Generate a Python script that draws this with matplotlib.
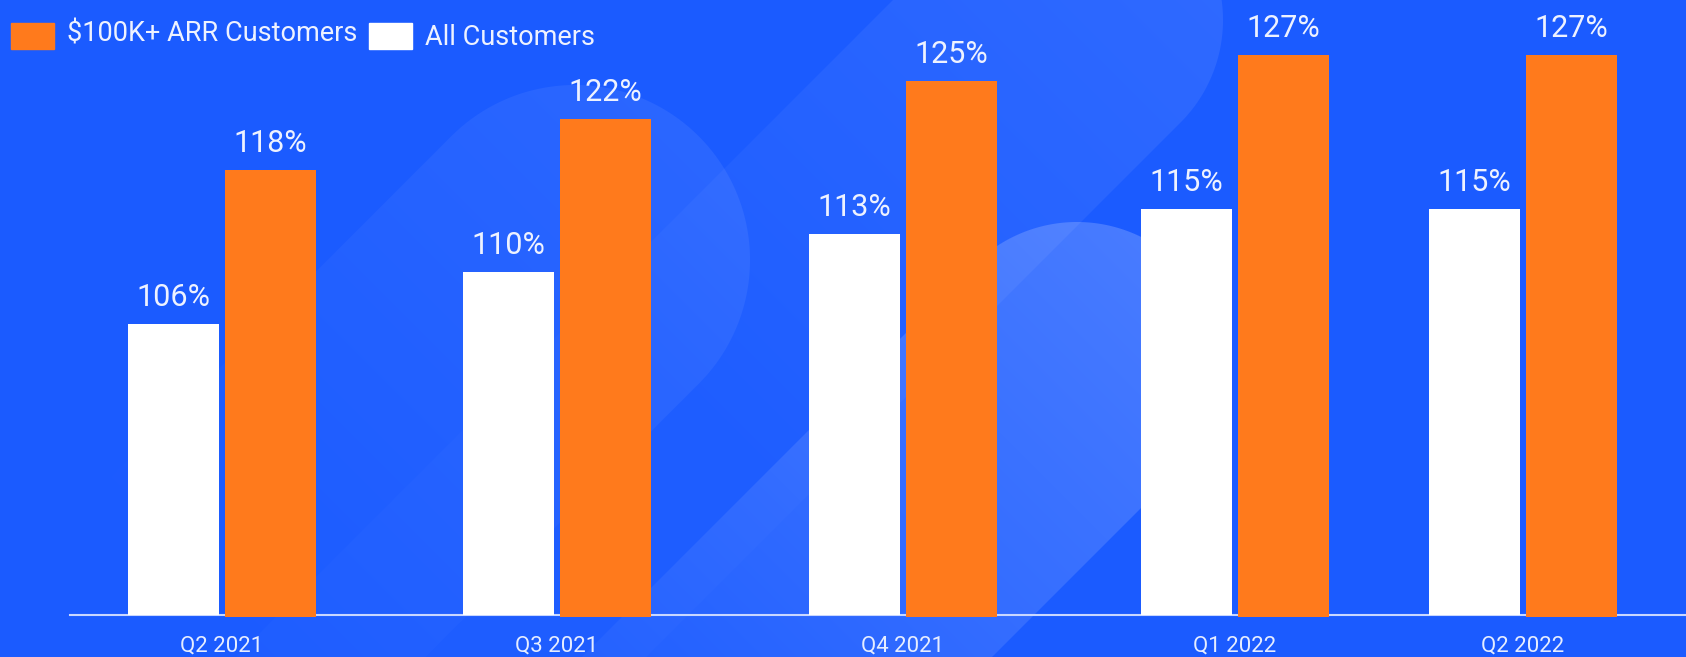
import numpy as np
import matplotlib.pyplot as plt
from matplotlib.patches import Rectangle
from matplotlib.colors import to_rgb

# data
quarters = ["Q2 2021", "Q3 2021", "Q4 2021", "Q1 2022", "Q2 2022"]
all_customers = [106, 110, 113, 115, 115]
arr_100k = [118, 122, 125, 127, 127]
series_names = ["$100K+ ARR Customers", "All Customers"]

# layout (pixels of the 1686x657 canvas)
W, H = 1686, 657
BG = "#1b5bff"
ORANGE = "#ff7a1c"
TXT = "#eef2ff"
group_x = [222, 557, 903, 1235, 1523]
bar_w = 91
offs = 48.5
base = 83.2
px_per_pct = 12.78

plt.rcParams['font.family'] = ['Roboto', 'DejaVu Sans']

fig = plt.figure(figsize=(W / 100, H / 100), dpi=100, facecolor=BG)

# soft decorative shapes behind the chart: rounded bands running down-left,
# fading out as they go (centre x, centre y, radius, alpha at top, alpha at end)
shapes = [(575, 260, 175, 0.07, 0.0),
          (1078, 20, 145, 0.09, 0.015),
          (1077, 367, 145, 0.20, 0.03)]
yy, xx = np.mgrid[0:H, 0:W] + 0.5
img = np.ones((H, W, 3)) * np.array(to_rgb(BG))
dx, dy = -np.sqrt(0.5), np.sqrt(0.5)
for cx, cy, r, a0, a1 in shapes:
    t = (xx - cx) * dx + (yy - cy) * dy
    tc = np.clip(t, 0, None)
    dist = np.hypot(xx - cx - tc * dx, yy - cy - tc * dy)
    cover = np.clip(r - dist + 0.5, 0, 1)
    alpha = cover * (a0 + (a1 - a0) * np.clip((t + r) / 700, 0, 1))
    img = img * (1 - alpha[..., None]) + alpha[..., None]

bg = fig.add_axes([0, 0, 1, 1])
bg.imshow(img, extent=(0, W, H, 0), aspect='auto', interpolation='nearest')
bg.axis('off')

ax = fig.add_axes([0, 42 / H, 1, 615 / H])
ax.patch.set_alpha(0)
ax.set_xlim(0, W)
ax.set_ylim(base, base + 615 / px_per_pct)

ext = 2 / px_per_pct
wb = ax.bar([x - offs for x in group_x], [v - base for v in all_customers],
            bottom=base, width=bar_w, color='white', zorder=3)
ob = ax.bar([x + offs for x in group_x], [v - base + ext for v in arr_100k],
            bottom=base - ext, width=bar_w, color=ORANGE, zorder=3, clip_on=False)

for bars, vals in [(wb, all_customers), (ob, arr_100k)]:
    for b, v in zip(bars, vals):
        ax.annotate(f"{v}%", (b.get_x() + b.get_width() / 2, v), xytext=(0, 13),
                    textcoords='offset points', ha='center', va='baseline',
                    fontsize=22, color=TXT)

for s in ['top', 'right', 'left']:
    ax.spines[s].set_visible(False)
ax.spines['bottom'].set_bounds(70, W)
ax.spines['bottom'].set_color('#c9d7ff')
ax.spines['bottom'].set_linewidth(1.5)
ax.set_yticks([])
ax.set_xticks(group_x, quarters)
ax.tick_params(axis='x', length=0, pad=15, labelsize=16, labelcolor='#e6edff')

# legend
def fx(px):
    return px / W

def fy(py):
    return 1 - py / H

fig.add_artist(Rectangle((fx(11), fy(49)), 43 / W, 26 / H, transform=fig.transFigure,
                         color=ORANGE))
fig.text(fx(67), fy(41), series_names[0], va='baseline', ha='left', fontsize=19.5,
         color=TXT)
fig.add_artist(Rectangle((fx(369), fy(49)), 43 / W, 26 / H, transform=fig.transFigure,
                         color='white'))
fig.text(fx(425), fy(45), series_names[1], va='baseline', ha='left', fontsize=19.5,
         color=TXT)

fig.savefig("out.png", dpi=100, facecolor=BG)
